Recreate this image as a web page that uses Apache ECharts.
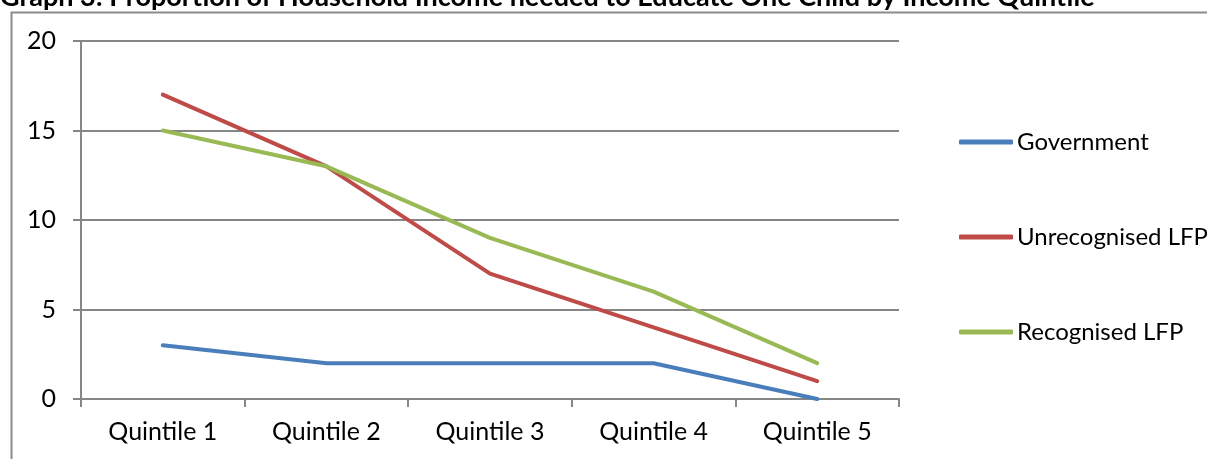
<!DOCTYPE html>
<html>
<head>
<meta charset="utf-8">
<script src="https://cdn.jsdelivr.net/npm/echarts@6/dist/echarts.min.js"></script>
<style>
  html, body { margin: 0; padding: 0; background: #fff; }
  #chart { width: 1207px; height: 459px; }
</style>
</head>
<body>
<div id="chart"></div>
<script>
// Income quintiles along the x axis
const categories = ['Quintile 1', 'Quintile 2', 'Quintile 3', 'Quintile 4', 'Quintile 5'];

// Share of household income needed per child, by school type
const government = [3, 2, 2, 2, 0];
const unrecognisedLFP = [17, 13, 7, 4, 1];
const recognisedLFP = [15, 13, 9, 6, 2];

const titleText = 'Graph 3: Proportion of Household Income needed to Educate One Child by Income Quintile';
const FONT = 'Lato, "Open Sans", sans-serif';

const chart = echarts.init(document.getElementById('chart'), null, { renderer: 'canvas' });

function lineSeries(name, data, color) {
  return {
    name, type: 'line', data,
    symbol: 'none',
    lineStyle: { color, width: 4, cap: 'round', join: 'round' },
    itemStyle: { color },
    z: 3
  };
}

chart.setOption({
  animation: false,
  backgroundColor: '#fff',
  graphic: [
    {
      type: 'rect',
      shape: { x: 11.5, y: 12.5, width: 1300, height: 500 },
      style: { fill: 'none', stroke: '#8c8c8c', lineWidth: 2 },
      z: -1
    },
    {
      // chart heading, sitting above the frame's top edge
      type: 'text',
      left: 0, top: -16,
      style: { text: titleText, font: 'bold 27px ' + FONT, fill: '#000' }
    }
  ],
  grid: { left: 81, right: 308, top: 41, bottom: 60 },
  xAxis: {
    type: 'category',
    data: categories,
    boundaryGap: true,
    axisLine: { lineStyle: { color: '#868686', width: 2 } },
    axisTick: { show: true, length: 8, lineStyle: { color: '#868686', width: 2 } },
    axisLabel: { color: '#000', fontSize: 25, fontFamily: FONT, margin: 20 },
    splitLine: { show: false }
  },
  yAxis: {
    type: 'value',
    min: 0, max: 20, interval: 5,
    axisLine: { show: true, lineStyle: { color: '#868686', width: 2 } },
    axisTick: { show: true, length: 8, lineStyle: { color: '#868686', width: 2 } },
    axisLabel: { color: '#000', fontSize: 25, fontFamily: FONT, margin: 25 },
    splitLine: { show: true, lineStyle: { color: '#868686', width: 2 } }
  },
  legend: {
    orient: 'vertical',
    left: 959, top: 129.5,
    padding: 0,
    itemWidth: 54, itemHeight: 5,
    itemGap: 70,
    icon: 'roundRect',
    textStyle: { color: '#000', fontSize: 24, fontFamily: FONT, lineHeight: 25, padding: [0, 0, 0, -1] },
    data: ['Government', 'Unrecognised LFP', 'Recognised LFP']
  },
  series: [
    lineSeries('Government', government, '#4A7EBB'),
    lineSeries('Unrecognised LFP', unrecognisedLFP, '#BE4B48'),
    lineSeries('Recognised LFP', recognisedLFP, '#98B954')
  ]
});
</script>
</body>
</html>
